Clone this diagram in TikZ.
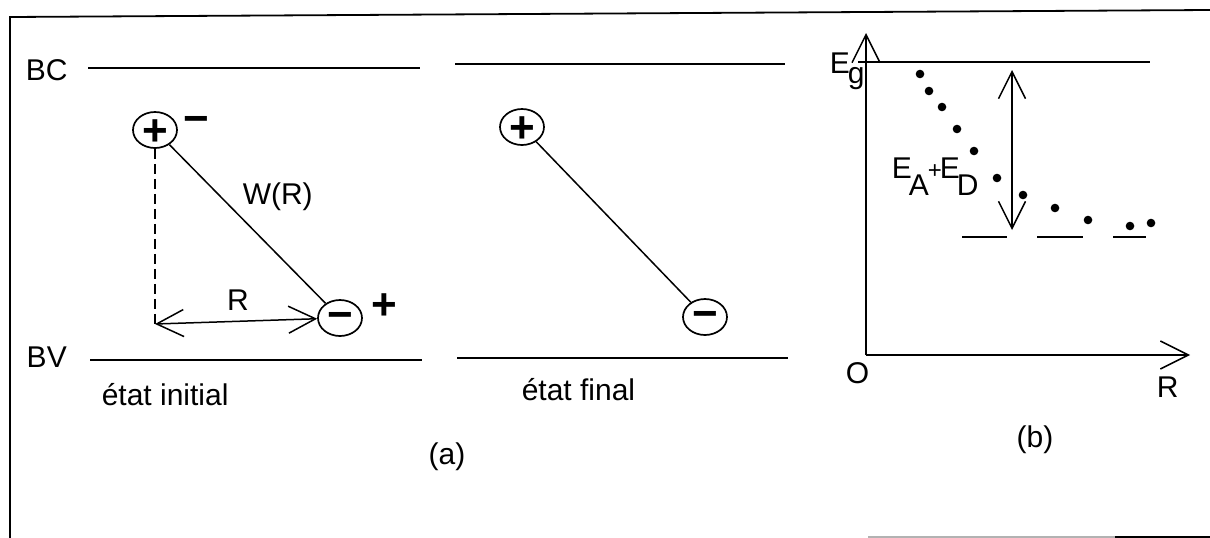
\documentclass[tikz,border=0pt]{standalone}
\usepackage{fontspec}
\setmainfont{Liberation Sans}
\usetikzlibrary{arrows.meta,shapes.geometric}
\begin{document}
\begin{tikzpicture}[x=1pt,y=-1pt,line width=1.5pt,
  lbl/.style={inner sep=0pt,font=\fontsize{30}{32}\selectfont},
  band/.style={line width=1.7pt},
  level/.style={line width=1.7pt},
  frame/.style={line width=1.8pt},
  axis/.style={line width=1.9pt},
  charge/.style={draw,ellipse,minimum width=44pt,minimum height=36pt,inner sep=0pt,line width=1.7pt},
  plussign/.style={inner sep=0pt,font=\fontsize{44}{44}\selectfont\bfseries,text height=31pt,text depth=0pt},
  minussign/.style={inner sep=0pt,font=\fontsize{44}{44}\selectfont\bfseries,text height=23pt,text depth=0pt},
  barb/.style={-{Straight Barb[length=28pt,width=28pt,line width=1.5pt]}},
  dbarb/.style={{Straight Barb[length=27pt,width=27pt,line width=1.5pt]}-{Straight Barb[length=27pt,width=27pt,line width=1.5pt]}},
  dot/.style={fill=black}
]
\fill[white] (0,0) rectangle (1210,538);
\useasboundingbox (0,0) rectangle (1210,538);
% frame
\draw[frame] (10,538) -- (10,17) -- (1210,10);
\draw[frame,black!30] (868,537) -- (1115,537);
\draw[frame] (1115,537) -- (1210,537);

% ---------- (a) initial state ----------
\node[lbl,anchor=base west] (bc) at (25,80) {BC};
\node[lbl,anchor=base west] (bv) at (26,367) {BV};
\draw[band] (88,68) -- (420,68);
\draw[band] (90,360) -- (422,360);
\node[charge] (p1) at (155,130) {};
\node[plussign] (p1s) at (155,130) {+};
\node[minussign] (p1m) at (196,122) {−};
\node[charge] (m1) at (340,318) {};
\node[minussign] (m1s) at (340,318) {−};
\node[plussign] (m1p) at (384,304) {+};
\draw (p1) -- (m1);
\coordinate (rl) at (155,324);
\draw[dash pattern=on 10pt off 5pt] (p1) -- (rl);
\draw[dbarb] (rl) -- (m1);
\node[lbl,anchor=base west] (w) at (242,204) {W(R)};
\node[lbl,anchor=base] (rlab) at (238,310) {R};
\node[lbl,anchor=base west] (ei) at (101,405) {état initial};

% ---------- final state ----------
\draw[band] (455,64) -- (785,64);
\draw[band] (457,358) -- (788,358);
\node[charge] (p2) at (522,127) {};
\node[plussign] (p2s) at (522,127) {+};
\node[charge] (m2) at (705,317) {};
\node[minussign] (m2s) at (705,317) {−};
\draw (p2) -- (m2);
\node[lbl,anchor=base west] (ef) at (521,400) {état final};
\node[lbl,anchor=base] (a) at (447,464) {(a)};

% ---------- (b) ----------
\coordinate (O) at (866,355);
\coordinate (ytip) at (866,33);
\coordinate (xtip) at (1190,355);
\draw[axis,barb] (O) -- (ytip);
\draw[axis,barb] (O) -- (xtip);
\draw[band] (858,62) -- (1150,62);
\node[lbl,anchor=base west] (eg) at (829,73) {E\kern-2pt\raisebox{-10pt}{g}};
\node[lbl,anchor=base west] (o) at (845,383) {O};
\node[lbl,anchor=base west] (rax) at (1156,397) {R};
\coordinate (dt) at (1012,70);
\coordinate (db) at (1012,230);
\draw[dbarb] (dt) -- (db);
\node[lbl,anchor=base west] (ead) at (891,178) {E\kern-3pt\raisebox{-17pt}{A}\kern-1pt{\fontsize{24}{24}\selectfont+}\kern-2pt E\kern-3pt\raisebox{-17pt}{D}};
\draw[level] (962,237) -- (1007,237);
\draw[level] (1037,237) -- (1083,237);
\draw[level] (1113,237) -- (1146,237);
\foreach \px/\py in {920/74,929/91,942/107,957/129,974/151,997/178,1023/195,1055/208,1088/220,1130/226,1151/223}
  \fill[dot] (\px,\py) circle (4.3pt);
\node[lbl,anchor=base] (b) at (1035,447) {(b)};
\end{tikzpicture}
\end{document}
